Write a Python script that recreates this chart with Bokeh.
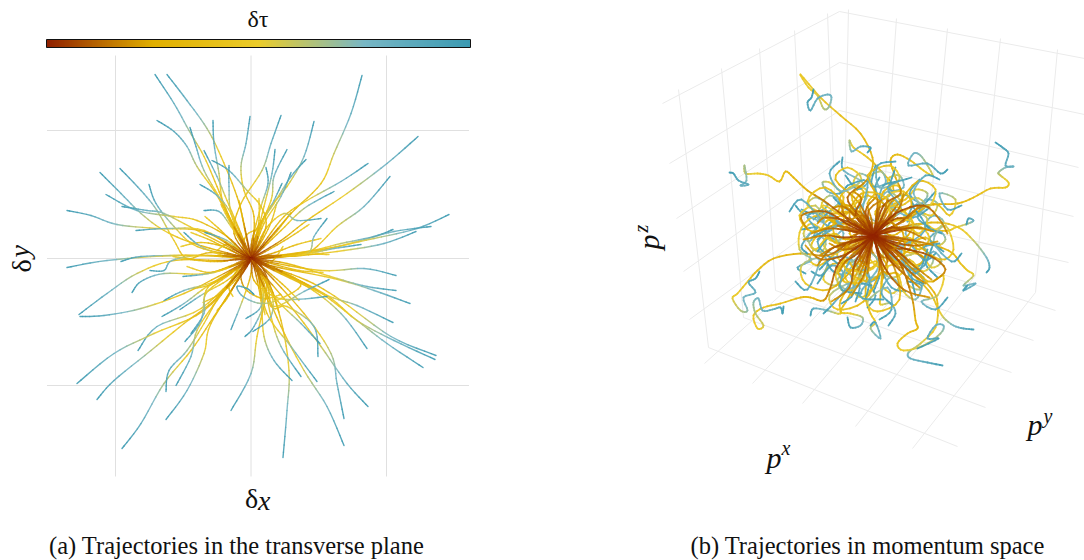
import numpy as np
from bokeh.plotting import figure
from bokeh.layouts import row
from bokeh.models import Range1d, ColorBar, LinearColorMapper, ColumnDataSource
from bokeh.core.properties import value
from bokeh.embed import file_html
from bokeh.resources import INLINE

# Colour scale of tau
scale_stops = [0.0, 0.25, 0.5, 0.75, 1.0]
scale_colors = ["#8f2000", "#e1af00", "#ebcc2a", "#78b7c5", "#3b9ab2"]

# Transverse plane: gridlines and trajectories (outer end first)
grid_dx = [-135.5, 0, 135.5]
grid_dy = [-127, 0, 128]
transverse_paths = [
 [(-96,184),(-77,155),(-62,128),(-47,102),(-34,72),(-20,38),(0,0)],
 [(-84,184),(-64,158),(-44,130),(-30,102),(-14,62),(-6,30),(0,0)],
 [(-94,138),(-77,127),(-64,112),(-54,92),(-37,68),(-24,45),(-7,15),(0,0)],
 [(-61,131),(-55,112),(-47,88),(-30,58),(-10,18),(0,0)],
 [(-38,138),(-37,115),(-32,85),(-27,52),(-7,12),(0,0)],
 [(-1,142),(-5,115),(-10,92),(-7,68),(3,42),(1,2)],
 [(30,143),(20,115),(11,88),(-10,55),(-17,25),(0,0)],
 [(63,137),(53,102),(36,72),(13,42),(3,5),(0,0)],
 [(111,183),(100,145),(83,105),(70,75),(40,45),(3,2)],
 [(167,122),(136,95),(96,65),(56,38),(30,18),(0,0)],
 [(117,95),(90,77),(56,58),(33,42),(10,12),(0,0)],
 [(139,82),(113,52),(86,32),(56,5),(20,3),(0,0)],
 [(198,44),(166,30),(123,20),(76,10),(23,2),(0,0)],
 [(180,32),(143,27),(110,18),(66,7),(23,2),(0,0)],
 [(165,27),(133,15),(93,8),(50,3),(0,0)],
 [(142,29),(123,22),(90,15),(56,7),(0,0)],
 [(110,14),(83,10),(56,5),(0,0)],
 [(83,67),(53,50),(30,28),(6,5),(0,0)],
 [(70,40),(46,38),(33,45),(15,30),(3,5),(0,0)],
 [(76,40),(63,22),(56,5),(20,2),(0,0)],
 [(55,99),(40,82),(23,55),(3,25),(0,0)],
 [(36,109),(23,82),(20,58),(3,18),(0,0)],
 [(24,109),(21,85),(13,52),(3,12),(0,0)],
 [(15,91),(17,75),(10,52),(1,18),(0,0)],
 [(40,86),(30,62),(13,35),(3,8),(0,0)],
 [(31,75),(23,58),(10,32),(0,0)],
 [(-47,108),(-34,82),(-24,58),(-10,25),(0,0)],
 [(-39,98),(-22,88),(-4,68),(10,52),(15,32),(3,5),(0,0)],
 [(-22,93),(-22,72),(-20,45),(-7,12),(0,0)],
 [(-51,74),(-34,63),(-20,45),(-4,8),(0,0)],
 [(-47,48),(-32,47),(-20,32),(-4,8),(0,0)],
 [(-151,86),(-130,65),(-110,45),(-87,28),(-57,15),(-10,2),(0,0)],
 [(-131,90),(-110,68),(-94,48),(-77,18),(-64,0),(-40,6),(0,0)],
 [(-102,74),(-95,55),(-77,32),(-54,12),(-10,2),(0,0)],
 [(-145,64),(-114,48),(-77,42),(-54,38),(-24,22),(-4,2),(0,0)],
 [(-129,52),(-104,48),(-87,45),(-54,28),(-4,2),(0,0)],
 [(-184,48),(-160,43),(-134,34),(-94,30),(-47,27),(-10,5),(0,0)],
 [(-115,28),(-84,30),(-47,28),(-7,5),(0,0)],
 [(-67,26),(-50,12),(-24,2),(0,0)],
 [(-46,26),(-24,18),(-4,2),(0,0)],
 [(-184,-9),(-144,-2),(-77,3),(-10,2),(0,0)],
 [(-130,-3),(-110,2),(-64,3),(-10,2),(0,0)],
 [(-172,-56),(-144,-35),(-114,-15),(-77,-2),(-27,-2),(0,0)],
 [(-171,-58),(-147,-57),(-110,-50),(-67,-35),(-27,-15),(0,0)],
 [(-119,-34),(-110,-23),(-87,-15),(-44,-15),(-4,-2),(0,0)],
 [(-101,-12),(-87,-12),(-79,-2),(-50,3),(-10,0),(0,0)],
 [(-68,-18),(-37,-14),(-4,-2),(0,0)],
 [(-87,-42),(-67,-32),(-34,-22),(-4,-2),(0,0)],
 [(-89,-58),(-67,-45),(-44,-28),(-4,-3),(0,0)],
 [(-71,-51),(-47,-35),(-24,-22),(-2,-3),(0,0)],
 [(-113,-92),(-94,-68),(-50,-50),(-10,-12),(0,0)],
 [(-174,-125),(-137,-95),(-97,-75),(-47,-52),(-7,-8),(0,0)],
 [(-154,-141),(-137,-122),(-100,-92),(-67,-65),(-37,-42),(-4,-5),(0,0)],
 [(-129,-190),(-110,-165),(-87,-125),(-60,-92),(-37,-58),(-4,-8),(0,0)],
 [(-85,-161),(-64,-132),(-47,-95),(-40,-65),(-7,-12),(0,0)],
 [(-85,-133),(-82,-112),(-64,-92),(-47,-65),(-30,-35),(-4,-5),(0,0)],
 [(-75,-127),(-60,-98),(-54,-72),(-34,-42),(-7,-8),(0,0)],
 [(-66,-83),(-50,-62),(-45,-32),(-30,-20),(-5,-3),(0,0)],
 [(-60,-75),(-47,-55),(-45,-35),(-20,-15),(0,0)],
 [(-20,-152),(0,-115),(6,-78),(16,-25),(2,-3),(0,0)],
 [(32,-199),(36,-152),(38,-112),(30,-62),(13,-12),(0,0)],
 [(93,-187),(76,-148),(53,-112),(30,-68),(6,-12),(0,0)],
 [(93,-160),(86,-125),(80,-95),(53,-55),(10,-8),(0,0)],
 [(117,-148),(96,-125),(70,-88),(43,-52),(3,-5),(0,0)],
 [(41,-122),(23,-102),(13,-78),(10,-42),(3,-8),(0,0)],
 [(50,-118),(30,-88),(20,-58),(13,-25),(2,-3),(0,0)],
 [(66,-123),(40,-88),(16,-55),(6,-12),(0,0)],
 [(67,-98),(63,-68),(36,-48),(20,-48),(5,-8),(0,0)],
 [(69,-85),(50,-65),(23,-38),(5,-5),(0,0)],
 [(116,-90),(90,-55),(56,-28),(10,-5),(0,0)],
 [(185,-97),(140,-78),(90,-42),(56,-22),(10,-5),(0,0)],
 [(184,-101),(143,-82),(106,-62),(73,-35),(13,-5),(0,0)],
 [(172,-109),(136,-85),(106,-62),(66,-32),(10,-3),(0,0)],
 [(142,-64),(106,-47),(76,-37),(23,-12),(0,0)],
 [(159,-45),(123,-32),(83,-20),(23,-8),(0,0)],
 [(145,-32),(116,-28),(86,-20),(36,-5),(0,0)],
 [(145,-17),(113,-10),(70,-12),(10,-2),(0,0)],
 [(76,-38),(43,-41),(23,-38),(3,-22),(1,0)],
 [(78,-21),(53,-33),(23,-48),(16,-25),(2,-3),(0,0)],
 [(-20,-71),(-7,-38),(0,-15),(0,0)],
 [(-6,-78),(3,-68),(13,-42),(6,-12),(0,0)],
 [(2,-73),(20,-58),(20,-32),(3,-3),(0,0)],
 [(-5,-60),(10,-48),(11,-22),(0,0)],
 [(3,-36),(-4,-30),(-14,-28),(-8,-38),(10,-45),(30,-40),(50,-25),(20,-8),(0,0)],
]
# Gold arcs of the inner part of the transverse plane (outer end first)
transverse_inner = [
 [(-70,12),(-50,16),(-28,12),(-10,3),(0,0)], [(-78,2),(-52,-2),(-30,-3),(-12,0),(0,0)],
 [(-64,-8),(-42,-14),(-22,-8),(-8,-2),(0,0)], [(-58,-30),(-40,-26),(-20,-14),(-6,-3),(0,0)],
 [(-48,-44),(-32,-36),(-16,-22),(-5,-6),(0,0)], [(-34,-52),(-24,-40),(-14,-22),(-4,-6),(0,0)],
 [(-18,-38),(-22,-28),(-14,-12),(-3,-3),(0,0)], [(30,-36),(12,-40),(-6,-30),(-10,-12),(0,0)],
 [(14,-56),(10,-36),(8,-18),(2,-5),(0,0)], [(28,-54),(22,-34),(12,-16),(3,-4),(0,0)],
 [(48,-42),(34,-28),(18,-14),(4,-3),(0,0)], [(62,-30),(44,-20),(22,-10),(5,-2),(0,0)],
 [(72,-14),(48,-12),(24,-6),(6,-1),(0,0)], [(78,4),(52,4),(26,1),(8,0),(0,0)],
 [(70,20),(46,14),(24,6),(6,1),(0,0)], [(58,34),(40,22),(20,10),(5,2),(0,0)],
 [(40,46),(28,30),(14,14),(3,3),(0,0)], [(26,56),(20,36),(10,16),(2,4),(0,0)],
 [(8,60),(8,38),(4,18),(1,4),(0,0)], [(-12,58),(-8,38),(-4,18),(-1,4),(0,0)],
 [(-30,54),(-20,34),(-10,16),(-2,4),(0,0)], [(-46,42),(-30,28),(-14,12),(-3,3),(0,0)],
 [(-60,26),(-40,18),(-20,8),(-4,1),(0,0)], [(-34,8),(-24,14),(-12,8),(-4,2),(0,0)],
 [(32,12),(22,-2),(10,-6),(2,-2),(0,0)], [(10,30),(-4,24),(-8,10),(-2,2),(0,0)],
]

# Momentum space: projected trajectories (start at the centre)
momentum_paths = [
 [(0,0),(-15,20),(-26,38),(-10,52),(-3,62),(-1,78),(-13,102),(-33,120),(-53,138),(-73,161),(-65,148),(-56,140),(-50,127),(-45,128),(-42,138),(-46,141),(-56,137),(-63,125),(-66,133),(-62,138),(-60,146)],
 [(0,0),(-30,20),(-50,35),(-66,45),(-80,58),(-88,64),(-94,54),(-105,60),(-116,62),(-128,62),(-129,70),(-127,55),(-133,50),(-125,51),(-135,55),(-140,62),(-144,63)],
 [(0,0),(25,12),(44,27),(60,31),(84,32),(100,38),(117,47),(132,48),(135,53),(127,60),(125,63),(132,68),(140,69),(132,70),(135,82),(129,88),(122,93)],
 [(0,0),(-5,25),(20,45),(7,65),(-6,78),(-20,88),(-24,95),(-22,84),(-13,89),(-3,88),(-6,83)],
 [(0,0),(10,30),(27,42),(22,58),(17,75),(24,81),(37,75),(50,65),(59,60),(54,70),(47,80),(40,82),(35,70),(54,72),(67,62),(74,66)],
 [(0,0),(30,8),(60,5),(75,5),(82,8),(95,12),(100,15),(95,17),(93,11)],
 [(0,0),(35,10),(64,13),(85,8),(100,-5),(113,-22),(116,-32),(113,-37)],
 [(0,0),(-25,-8),(-46,-20),(-73,-18),(-100,-23),(-116,-35),(-125,-45),(-136,-58),(-141,-63),(-133,-75),(-126,-75),(-130,-62),(-118,-57),(-125,-47),(-118,-43),(-114,-36)],
 [(0,0),(-33,-25),(-43,-52),(-50,-65),(-63,-62),(-73,-62),(-93,-68),(-110,-72),(-120,-80),(-116,-93),(-110,-90),(-118,-78),(-120,-67),(-115,-63),(-111,-75),(-101,-74),(-93,-72),(-91,-78),(-90,-71)],
 [(0,0),(25,-20),(57,-52),(64,-68),(62,-92),(47,-108),(35,-117),(37,-123),(54,-127),(69,-130)],
 [(0,0),(25,-25),(38,-60),(42,-85),(44,-93),(34,-98),(24,-108),(30,-115),(50,-110),(67,-98),(70,-90),(62,-90),(54,-103),(65,-103),(44,-113)],
 [(0,0),(30,-30),(55,-55),(64,-72),(70,-82),(80,-90),(90,-93),(100,-94)],
 [(0,0),(-5,-30),(-8,-60),(-3,-78),(2,-87),(-3,-93),(7,-103),(2,-87),(-3,-90)],
 [(0,0),(-15,-35),(-33,-65),(-33,-78),(-46,-75),(-60,-73),(-63,-80)],
 [(0,0),(-10,-30),(-25,-62),(-33,-76),(-23,-78),(-11,-82),(-13,-90),(-23,-92),(-26,-82)],
 [(0,0),(8,-30),(7,-60),(7,-69),(17,-68),(22,-78),(15,-90)],
 [(0,0),(40,-5),(75,-15),(87,-28),(94,-35),(100,-40),(90,-50),(102,-48),(90,-55),(94,-50)],
 [(0,0),(-12,18),(-22,40),(-10,52),(-30,65),(-31,78)],
 [(0,0),(-18,14),(-35,22),(-30,38),(-42,52),(-51,53),(-46,44),(-34,42),(-26,50)],
 [(0,0),(-12,8),(-30,12),(-45,8),(-58,-2),(-62,-12),(-52,-16),(-48,-6),(-60,4),(-68,-4),(-72,-12),(-66,-18)],
 [(0,0),(-14,-5),(-30,-3),(-46,2),(-62,12),(-70,2),(-64,-6),(-58,6),(-66,18),(-60,24)],
 [(0,0),(-18,10),(-36,14),(-50,22),(-66,30),(-58,38),(-46,30),(-60,22),(-72,26)],
 [(0,0),(-10,16),(-24,24),(-40,22),(-52,30),(-44,40),(-34,34),(-44,24),(-56,14)],
 [(0,0),(-20,-10),(-38,-18),(-54,-30),(-64,-24),(-58,-14),(-46,-26),(-52,-40),(-62,-36)],
 [(0,0),(-14,-14),(-28,-26),(-44,-30),(-50,-44),(-38,-50),(-30,-38),(-42,-30),(-56,-48)],
 [(0,0),(-8,-18),(-20,-34),(-18,-50),(-30,-56),(-36,-44),(-24,-38),(-20,-58),(-32,-68)],
 [(0,0),(-4,-20),(-8,-38),(-2,-52),(-12,-62),(-20,-54),(-8,-48),(2,-60),(-6,-72)],
 [(0,0),(6,-18),(14,-32),(8,-48),(18,-58),(26,-50),(16,-42),(8,-58),(20,-70)],
 [(0,0),(12,-14),(24,-28),(36,-32),(34,-48),(46,-54),(50,-42),(38,-38),(42,-60)],
 [(0,0),(16,-8),(32,-16),(48,-20),(58,-32),(68,-26),(60,-16),(52,-28),(64,-42)],
 [(0,0),(20,-4),(38,-6),(52,-2),(64,-10),(72,-4),(66,4),(56,-4),(70,-16)],
 [(0,0),(18,6),(34,6),(50,12),(62,6),(70,14),(60,20),(52,10),(68,2)],
 [(0,0),(14,12),(30,18),(44,24),(58,20),(64,32),(52,36),(46,26),(62,44)],
 [(0,0),(10,16),(18,30),(32,36),(42,46),(54,42),(48,32),(36,42),(46,56)],
 [(0,0),(4,18),(6,34),(18,42),(14,56),(26,60),(30,48),(16,46),(22,68)],
 [(0,0),(-2,16),(-6,32),(2,44),(-4,58),(8,64),(12,52),(-2,50),(2,70)],
 [(0,0),(-8,14),(-14,30),(-10,44),(-20,52),(-14,62),(-4,56),(-16,46),(-28,60)],
 [(0,0),(-6,6),(-16,10),(-24,2),(-16,-6),(-28,-10),(-38,-2),(-30,8),(-42,14),(-48,4)],
 [(0,0),(6,10),(16,14),(26,6),(36,12),(30,24),(18,26),(22,38),(34,40),(40,30)],
 [(0,0),(10,-4),(22,-12),(30,-2),(42,-6),(40,-18),(28,-22),(34,-34),(46,-30),(52,-20)],
 [(0,0),(-4,-10),(-14,-16),(-8,-28),(4,-26),(8,-38),(-4,-42),(-10,-34),(-14,-46),(-2,-50)],
 [(0,0),(-10,-4),(-20,-14),(-32,-10),(-36,-22),(-24,-28),(-16,-22),(-28,-38),(-40,-36),(-46,-28)],
 [(0,0),(-8,8),(-20,4),(-30,16),(-22,28),(-36,30),(-44,20),(-34,12),(-48,2),(-56,-4)],
 [(0,0),(8,4),(20,0),(34,8),(46,2),(54,16),(44,22),(34,14),(40,30),(54,30)],
 [(0,0),(4,12),(2,24),(12,30),(24,24),(26,36),(14,44),(6,36),(10,50),(24,54)],
 [(0,0),(12,-10),(14,-24),(26,-26),(28,-38),(16,-42),(8,-34),(18,-52),(32,-56)],
 [(0,0),(-2,-14),(4,-26),(-6,-34),(-16,-28),(-14,-42),(-2,-46),(6,-40),(0,-56)],
 [(0,0),(-16,2),(-28,-4),(-40,2),(-50,-8),(-42,-18),(-32,-12),(-44,-2),(-56,-16)],
 [(0,0),(-20,22),(-34,36),(-20,50),(-6,44),(-12,30),(-26,26),(-40,38)],
 [(0,0),(22,20),(38,30),(30,44),(14,40),(22,26),(40,18),(56,28)],
 [(0,0),(24,-18),(42,-30),(54,-18),(42,-6),(28,-14),(36,-40),(50,-48)],
 [(0,0),(-22,-20),(-36,-34),(-26,-48),(-12,-40),(-22,-24),(-40,-22),(-54,-34)],
 [(0,0),(-30,8),(-44,16),(-52,4),(-40,-6),(-30,2),(-46,24),(-60,16)],
 [(0,0),(30,-6),(46,-14),(56,-2),(44,10),(32,2),(50,-24),(62,-18)],
 [(0,0),(6,28),(10,44),(24,50),(28,36),(14,28),(2,46),(6,58)],
 [(0,0),(-6,-28),(-12,-46),(-26,-46),(-28,-32),(-14,-24),(-4,-42),(-8,-64)],
 [(0,0),(18,34),(28,30),(42,38),(52,30),(44,18),(56,8)],
 [(0,0),(-24,30),(-34,22),(-50,30),(-56,18),(-46,8),(-62,-2)],
 [(0,0),(26,-32),(36,-24),(50,-36),(60,-24),(50,-12),(66,-8)],
 [(0,0),(-16,-34),(-26,-26),(-38,-40),(-28,-54),(-14,-50),(-18,-66)],
 [(0,0),(10,-36),(24,-38),(30,-56),(42,-64),(48,-50),(34,-46)],
 [(0,0),(-34,-8),(-46,-2),(-58,-14),(-66,-2),(-56,8),(-72,6)],
 [(0,0),(-28,6),(-54,20),(-72,8),(-74,-14),(-62,-24),(-76,-32),(-68,-38)],
 [(0,0),(-24,26),(-48,48),(-66,34),(-50,14),(-70,22),(-78,30)],
 [(0,0),(-18,-30),(-44,-54),(-68,-48),(-72,-30),(-54,-24),(-66,-54),(-78,-46)],
 [(0,0),(6,-34),(-10,-66),(-36,-74),(-44,-60),(-24,-48),(-40,-68),(-50,-78)],
 [(0,0),(20,-30),(26,-64),(4,-76),(-6,-66),(14,-52),(18,-74),(6,-84)],
 [(0,0),(32,-22),(54,-46),(70,-40),(64,-60),(48,-66),(62,-74),(74,-62)],
 [(0,0),(34,-4),(66,-24),(80,-14),(72,10),(60,-6),(78,-26),(88,-18)],
 [(0,0),(30,14),(60,32),(76,20),(82,36),(66,42),(74,26),(88,30)],
 [(0,0),(22,28),(44,54),(62,46),(54,28),(40,42),(52,60),(66,56)],
 [(0,0),(4,36),(-6,60),(16,70),(26,56),(6,48),(4,70),(22,74)],
 [(0,0),(-14,32),(-38,56),(-26,68),(-12,56),(-32,44),(-44,62),(-34,74)],
 [(0,0),(-36,10),(-62,4),(-74,20),(-58,30),(-50,14),(-72,36),(-84,24)],
 [(0,0),(18,22),(-6,40),(-22,22),(4,12),(28,26),(14,48),(38,58)],
 [(0,0),(-22,-6),(-30,-30),(-6,-36),(10,-18),(-10,-6),(-34,-50),(-12,-58)],
 [(0,0),(24,-8),(40,12),(20,30),(6,14),(24,-10),(52,6),(40,28)],
 [(0,0),(-14,24),(-40,14),(-32,-14),(-10,-12),(-22,16),(-56,-6),(-36,-28)],
 [(0,0),(10,-22),(36,-14),(38,14),(14,10),(16,-18),(46,-34),(60,-8)],
 [(0,0),(-24,18),(-12,42),(12,38),(14,14),(-10,22),(-6,54),(-26,50)],
 [(0,0),(14,-26),(-6,-46),(-30,-30),(-18,-10),(6,-28),(-14,-60),(10,-64)],
 [(0,0),(26,8),(30,-20),(6,-32),(-8,-12),(18,-6),(42,-38),(54,-14)],
]
# Dark early parts of the trajectories around the centre
momentum_core = [
 [(0,0),(-25,5),(-45,7),(-62,2)], [(0,0),(-22,12),(-30,22),(-32,32)],
 [(0,0),(-18,20),(-12,36),(-20,44)], [(0,0),(-8,24),(2,38)],
 [(0,0),(10,22),(14,36)], [(0,0),(20,16),(34,18),(46,30)],
 [(0,0),(28,6),(44,8),(60,4)], [(0,0),(26,-8),(44,-10),(64,-6)],
 [(0,0),(24,-16),(40,-30),(58,-44)], [(0,0),(14,-22),(30,-38),(46,-52)],
 [(0,0),(6,-24),(10,-42)], [(0,0),(-6,-22),(-10,-40),(-22,-60)],
 [(0,0),(-16,-18),(-28,-26),(-34,-36)], [(0,0),(-24,-8),(-40,-12),(-54,-20)],
 [(0,0),(-30,-2),(-48,0),(-70,-4)], [(0,0),(-26,14),(-48,18),(-56,12)],
 [(0,0),(18,8),(36,4),(52,-4)], [(0,0),(-10,10),(-28,28),(-40,28)],
 [(0,0),(12,12),(26,28),(30,42)], [(0,0),(16,-12),(36,-14),(50,-22)],
 [(0,0),(-14,-10),(-30,-14),(-44,-8)], [(0,0),(-4,14),(-12,20),(-22,16)],
 [(0,0),(8,-12),(20,-14),(26,-6)], [(0,0),(-8,-10),(-14,-24),(-4,-32)],
 [(0,0),(4,12),(16,14),(24,8)], [(0,0),(-12,4),(-22,-4),(-30,-14)],
 [(0,0),(-40,-12),(-56,-30)], [(0,0),(34,-34),(52,-48)],
 [(0,0),(-24,10),(-48,24),(-72,20),(-66,6)], [(0,0),(28,-12),(56,-20),(72,-34),(60,-46)],
 [(0,0),(-18,-26),(-24,-52),(-42,-66)], [(0,0),(22,22),(50,30),(66,16),(74,2)],
 [(0,0),(-26,-18),(-52,-24),(-68,-10)], [(0,0),(10,-30),(30,-54),(56,-62)],
]
# Gridlines of the box, as projected
box_x0 = [-34,-34,-34,-34,-34,-195,-152,-114,-79,-46,-34,-34,-34,-34,-34,-25,23,74,127,184,-165,-130,-98,-67,-37,-169,-121,-71,-18,39]
box_y0 = [224,173,125,75,25,146,167,187,205,222,224,173,125,75,25,226,217,207,197,186,-112,-82,-55,-28,-5,-128,-148,-168,-191,-213]
box_x1 = [-211,-204,-197,-190,-184,-165,-130,-98,-67,-37,211,211,205,200,195,-30,7,52,102,162,84,112,138,160,182,-30,7,52,102,162]
box_y1 = [132,72,17,-36,-84,-112,-82,-55,-28,-5,177,121,68,19,-27,-3,-12,-24,-40,-57,-211,-172,-137,-105,-75,-3,-12,-24,-40,-57]

colorbar_title = "δτ"
caption_a = "(a)  Trajectories in the transverse plane"
caption_b = "(b)  Trajectories in momentum space"

palette = []
for v in np.linspace(0, 1, 256):
    rgb = [np.interp(v, scale_stops, [int(c[i:i+2], 16) for c in scale_colors]) for i in (1, 3, 5)]
    palette.append("#%02x%02x%02x" % tuple(int(round(x)) for x in rgb))

def smooth(path, sub):
    pts = np.array([path[0]] + list(path) + [path[-1]], float)
    out = []
    for i in range(1, len(pts) - 2):
        p0, p1, p2, p3 = pts[i-1], pts[i], pts[i+1], pts[i+2]
        for s in np.linspace(0, 1, sub, endpoint=False):
            out.append(0.5*((2*p1)+(p2-p0)*s+(2*p0-5*p1+4*p2-p3)*s*s+(3*p1-p0-3*p2+p3)*s**3))
    out.append(pts[-2])
    return np.array(out)

def segments(paths, taus, sub):
    rows = []
    for k, (path, tau_fn) in enumerate(zip(paths, taus)):
        c = smooth(path, sub)
        tt = tau_fn(c)
        for i in range(len(c) - 1):
            v = float(np.clip(0.5*(tt[i]+tt[i+1]), 0, 1))
            # dark early parts lie on top, the rest in the order of the trajectories
            rows.append((1 if v < 0.2 else 0, k, [c[i][0], c[i+1][0]], [c[i][1], c[i+1][1]], palette[int(v*255)]))
    rows.sort(key=lambda r: (r[0], r[1]))
    return dict(xs=[r[2] for r in rows], ys=[r[3] for r in rows], color=[r[4] for r in rows])

def tau_arc(c):
    d = np.r_[0, np.cumsum(np.hypot(*np.diff(c, axis=0).T))]
    L = d[-1]
    t = np.interp(d/L, [0, 0.2, 0.55, 0.75, 1], scale_stops)
    return 1 - (1-t)*min(1.0, L/75)

def tau_inner(c):
    return 0.5*np.arange(len(c))/(len(c)-1)

def tau_index(c):
    return np.interp(np.arange(len(c))/(len(c)-1), [0, 0.2, 0.52, 0.7, 1], scale_stops)

def tau_core(c):
    return 0.22*np.arange(len(c))/(len(c)-1)

common = dict(height=560, output_backend="svg", toolbar_location=None, min_border=0)
serif = value("Liberation Serif")

def put(p, x, y, s, size, style="normal", angle=0, align="left"):
    p.text(x=[x], y=[y], text=[s], text_font=serif, text_font_size=f"{size}px", text_font_style=style,
           angle=angle, text_align=align, text_baseline="middle", text_color="#111111")

# ---- panel (a)
p1 = figure(width=542, x_range=Range1d(-250.5, 291.5), y_range=Range1d(-302, 258), **common)
p1.axis.visible = False
p1.grid.visible = False
p1.outline_line_color = None
p1.segment(grid_dx, [-218]*3, grid_dx, [203]*3, line_color="#e0e0e0", line_width=1)
p1.segment([-204]*3, grid_dy, [218]*3, grid_dy, line_color="#e0e0e0", line_width=1)
a_paths = [list(reversed(q)) for q in transverse_inner + transverse_paths]
a_tau = [tau_inner]*len(transverse_inner) + [tau_arc]*len(transverse_paths)
p1.multi_line("xs", "ys", source=ColumnDataSource(segments(a_paths, a_tau, 6)),
              line_color="color", line_width=1.4, line_alpha=0.9, line_cap="round")
mapper = LinearColorMapper(palette=palette, low=0, high=1)
bar = ColorBar(color_mapper=mapper, orientation="horizontal", location=(46, 513), width=424, height=8, padding=0,
               major_tick_line_color=None, minor_tick_line_color=None, major_label_text_font_size="0px",
               major_label_text_color=None, bar_line_color="#111111", bar_line_width=1,
               background_fill_color=None, border_line_color=None)
p1.add_layout(bar, "center")
put(p1, 7, 240, colorbar_title, 24, align="center")
put(p1, -6, -240, "δ", 28)
put(p1, 7, -242, "x", 28, "italic")
put(p1, -230, -14, "δ", 28, angle=np.pi/2)
put(p1, -232, 1, "y", 28, "italic", angle=np.pi/2)
put(p1, -202, -287, caption_a, 24.5)

# ---- panel (b)
p2 = figure(width=542, x_range=Range1d(-331, 211), y_range=Range1d(-325, 235), **common)
p2.axis.visible = False
p2.grid.visible = False
p2.outline_line_color = None
p2.segment(box_x0, box_y0, box_x1, box_y1, line_color="#ebebeb", line_width=1)
b_paths = momentum_paths + momentum_core
b_tau = [tau_index]*len(momentum_paths) + [tau_core]*len(momentum_core)
p2.multi_line("xs", "ys", source=ColumnDataSource(segments(b_paths, b_tau, 4)),
              line_color="color", line_width=1.8, line_alpha=0.9, line_cap="round")
put(p2, -225, -14, "p", 30, "italic", angle=np.pi/2)
put(p2, -233, 3, "z", 20, "italic", angle=np.pi/2)
put(p2, -107, -222, "p", 30, "italic")
put(p2, -92, -212, "x", 20, "italic")
put(p2, 154, -189, "p", 30, "italic")
put(p2, 170, -180, "y", 20, "italic")
put(p2, -183, -310, caption_b, 24.5)

open("out.html", "w").write(file_html(row(p1, p2), INLINE))
